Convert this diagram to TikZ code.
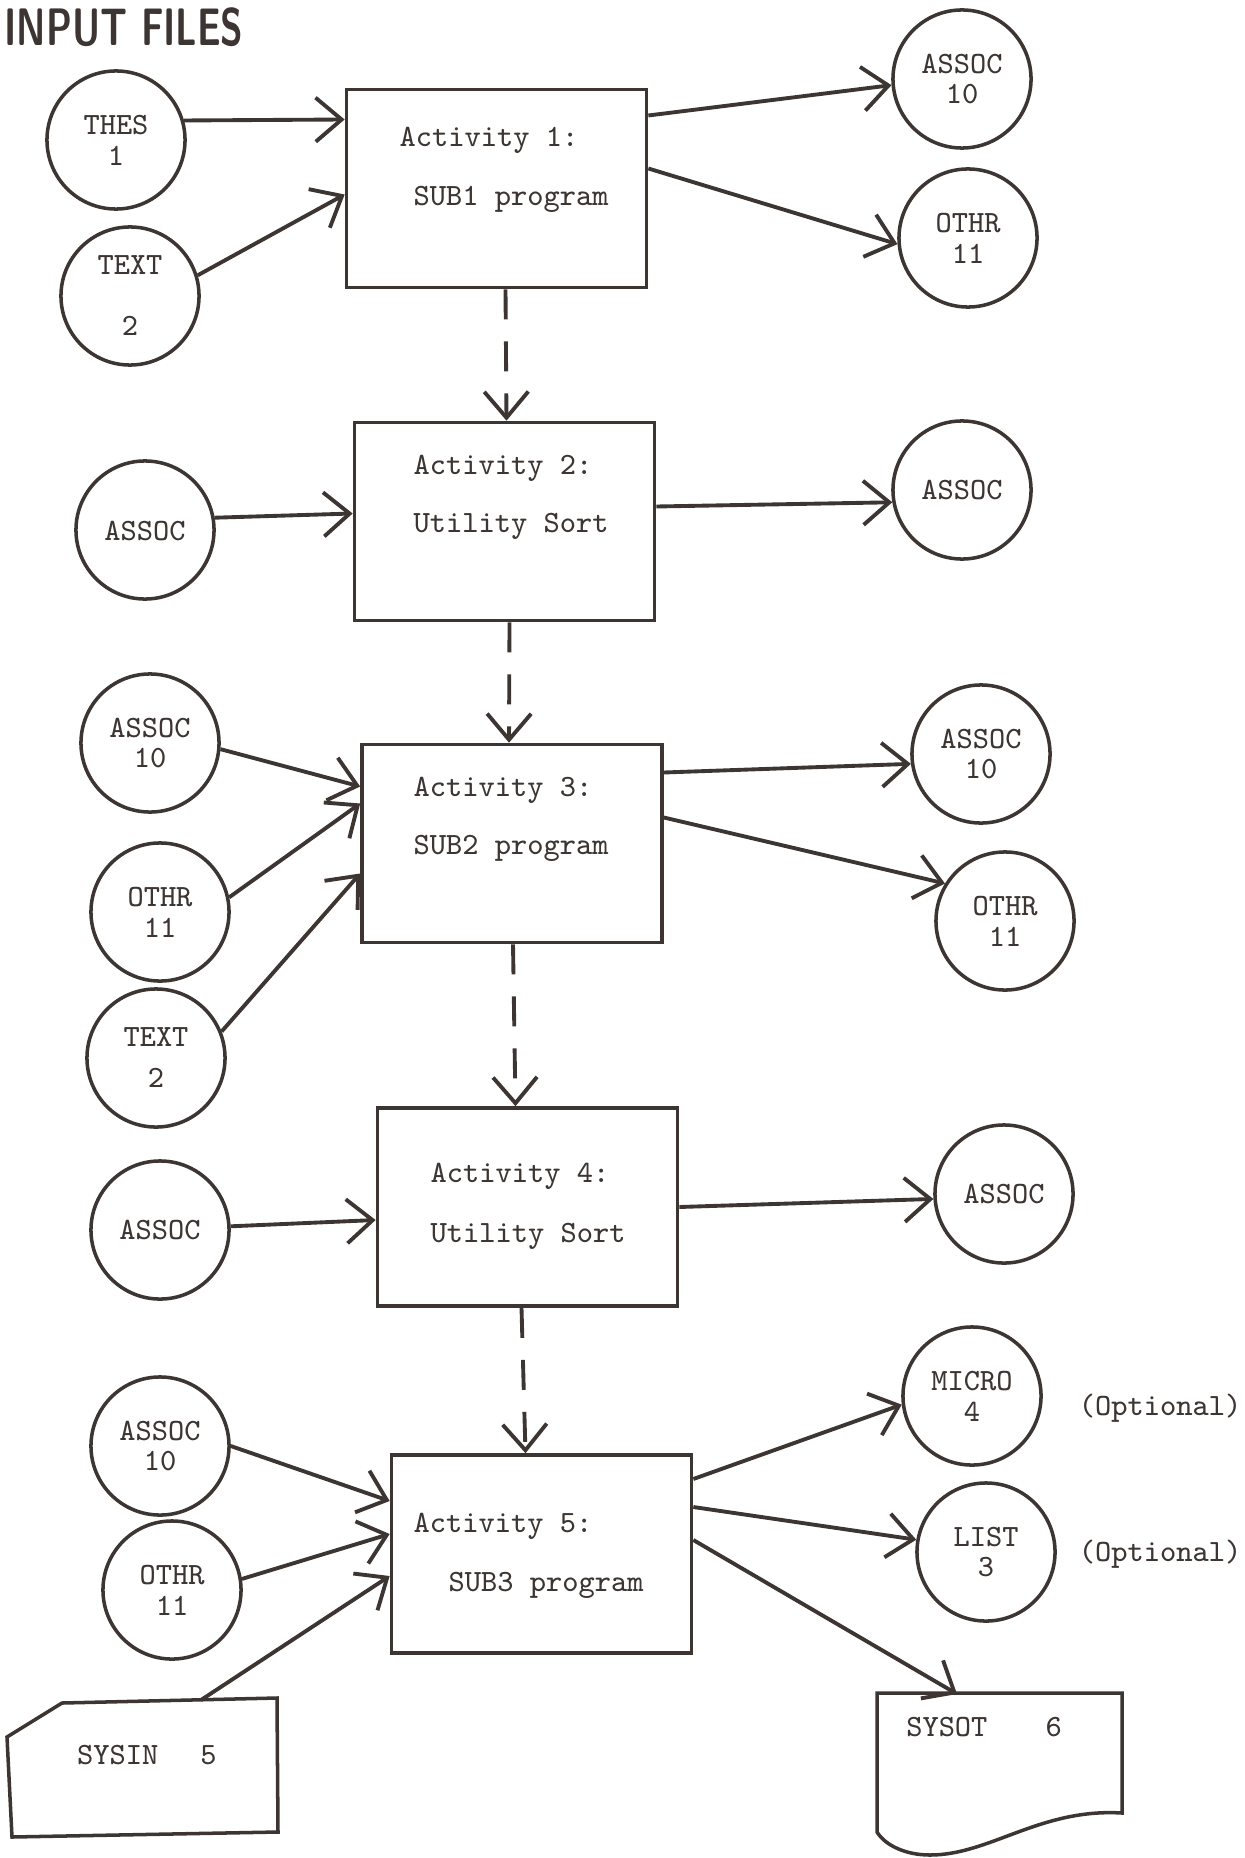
\documentclass[tikz,border=0pt]{standalone}
\usetikzlibrary{arrows.meta,calc}
\definecolor{ink}{RGB}{60,53,50}
\newcommand{\typew}{\fontsize{8.8}{8.8}\selectfont\ttfamily}

\begin{document}
\begin{tikzpicture}[x=0.01cm,y=-0.01cm,
    file/.style={draw=ink,circle,line width=1pt,minimum size=1.38cm,inner sep=0pt,align=center,text=ink,font=\typew},
    activity/.style={draw=ink,line width=1pt,minimum width=3cm,minimum height=1.98cm},
    boxtext/.style={anchor=west,inner sep=0pt,text=ink,font=\typew},
    flow/.style={draw=ink,line width=1.1pt,-{Straight Barb[length=2.6mm,width=4.4mm]}},
    dflow/.style={flow,dash pattern=on 3mm off 2.2mm}]
  \useasboundingbox (0,0) rectangle (1244,1858);

  % Title
  \node[anchor=base west,inner sep=0pt,text=ink] (title) at (4,46)
    {\scalebox{0.7}[1]{\fontsize{15}{15}\selectfont\sffamily\bfseries INPUT FILES}};

  % Activity boxes
  \node[activity] (act1) at (496.5,188.5) {};
  \node[boxtext] (act1a) at (399,140) {Activity 1:};
  \node[boxtext] (act1b) at (413,199) {SUB1 program};

  \node[activity] (act2) at (504.5,521.5) {};
  \node[boxtext] (act2a) at (413,468) {Activity 2:};
  \node[boxtext] (act2b) at (413,526) {Utility Sort};

  \node[activity] (act3) at (512,843.5) {};
  \node[boxtext] (act3a) at (413,790) {Activity 3:};
  \node[boxtext] (act3b) at (413,848) {SUB2 program};

  \node[activity] (act4) at (527.5,1207) {};
  \node[boxtext] (act4a) at (430,1176) {Activity 4:};
  \node[boxtext] (act4b) at (430,1236) {Utility Sort};

  \node[activity] (act5) at (541.5,1554) {};
  \node[boxtext] (act5a) at (413,1526) {Activity 5:};
  \node[boxtext] (act5b) at (448,1585) {SUB3 program};

  % Files of activity 1
  \node[file] (thes) at (116,140) {THES\\1};
  \node[file] (texta) at (130,296) {TEXT\\[3mm]2};
  \node[file] (assocA) at (962,79) {ASSOC\\10};
  \node[file] (othrA) at (968,238) {OTHR\\11};

  % Files of activity 2
  \node[file] (assocB) at (145,530) {\\[-1mm]ASSOC};
  \node[file] (assocBo) at (962,490) {ASSOC};

  % Files of activity 3
  \node[file] (assocC) at (150,743) {ASSOC\\10};
  \node[file] (othrC) at (160,912) {OTHR\\11};
  \node[file] (textc) at (156,1058) {TEXT\\[1mm]2};
  \node[file] (assocCo) at (981,754) {ASSOC\\10};
  \node[file] (othrCo) at (1005,921) {OTHR\\11};

  % Files of activity 4
  \node[file] (assocD) at (160,1230) {ASSOC};
  \node[file] (assocDo) at (1004,1194) {ASSOC};

  % Files of activity 5
  \node[file] (assocE) at (160,1446) {ASSOC\\10};
  \node[file] (othrE) at (172,1590) {OTHR\\11};
  \node[file] (micro) at (972,1396) {MICRO\\4};
  \node[file] (list) at (986,1552) {LIST\\3};
  \node[text=ink,font=\typew] (opt1) at (1160,1408) {(Optional)};
  \node[text=ink,font=\typew] (opt2) at (1160,1554) {(Optional)};

  % SYSIN card
  \draw[ink,line width=1pt] (7,1737) -- (62,1703) -- (277,1698) -- (278,1832) -- (12,1837) -- cycle;
  \node[text=ink,font=\typew] (sysin) at (147,1755) {SYSIN\hspace{0.42cm}5};
  \coordinate (sysintop) at (201,1700);

  % SYSOT document
  \draw[ink,line width=1pt] (877,1693) -- (1122,1693) -- (1122,1813)
    .. controls (1040,1808) and (990,1855) .. (930,1855)
    .. controls (905,1855) and (885,1845) .. (877,1832) -- cycle;
  \node[text=ink,font=\typew] (sysot) at (984,1727) {SYSOT\hspace{0.58cm}6};
  \coordinate (sysottop) at (957,1694);

  % Activity 1 flows
  \draw[flow] (thes.16) -- ($(act1.west)+(0,-69)$);
  \draw[flow] (texta.17) -- ($(act1.west)+(0,6)$);
  \draw[flow] ($(act1.east)+(0,-73)$) -- (assocA.185);
  \draw[flow] ($(act1.east)+(0,-20)$) -- (othrA.185);

  % Activity 2 flows
  \draw[flow] (assocB.10) -- ($(act2.west)+(0,-8)$);
  \draw[flow] ($(act2.east)+(0,-15)$) -- (assocBo.190);

  % Activity 3 flows
  \draw[flow] (assocC.-5) -- ($(act3.west)+(0,-57)$);
  \draw[flow] (othrC.12) -- ($(act3.west)+(0,-40)$);
  \draw[flow] (textc.22) -- ($(act3.west)+(0,30)$);
  \draw[flow] ($(act3.east)+(0,-71)$) -- (assocCo.188);
  \draw[flow] ($(act3.east)+(0,-26)$) -- (othrCo.148);

  % Activity 4 flows
  \draw[flow] (assocD.3) -- ($(act4.west)+(0,13)$);
  \draw[flow] (act4.east) -- (assocDo.184);

  % Activity 5 flows
  \draw[flow] (assocE.0) -- ($(act5.west)+(0,-53)$);
  \draw[flow] (othrE.9) -- ($(act5.west)+(0,-20)$);
  \draw[flow] (sysintop) -- ($(act5.west)+(0,22)$);
  \draw[flow] ($(act5.east)+(0,-75)$) -- (micro.187);
  \draw[flow] ($(act5.east)+(0,-47)$) -- (list.170);
  \draw[flow] ($(act5.east)+(0,-14)$) -- (sysottop);

  % Sequence between activities
  \draw[dflow] ($(act1.south)+(9,0)$) -- ($(act2.north)+(2,0)$);
  \draw[dflow] ($(act2.south)+(5,0)$) -- ($(act3.north)+(-3,0)$);
  \draw[dflow] ($(act3.south)+(1,0)$) -- ($(act4.north)+(-12,0)$);
  \draw[dflow] ($(act4.south)+(-6,0)$) -- ($(act5.north)+(-16,0)$);
\end{tikzpicture}
\end{document}
